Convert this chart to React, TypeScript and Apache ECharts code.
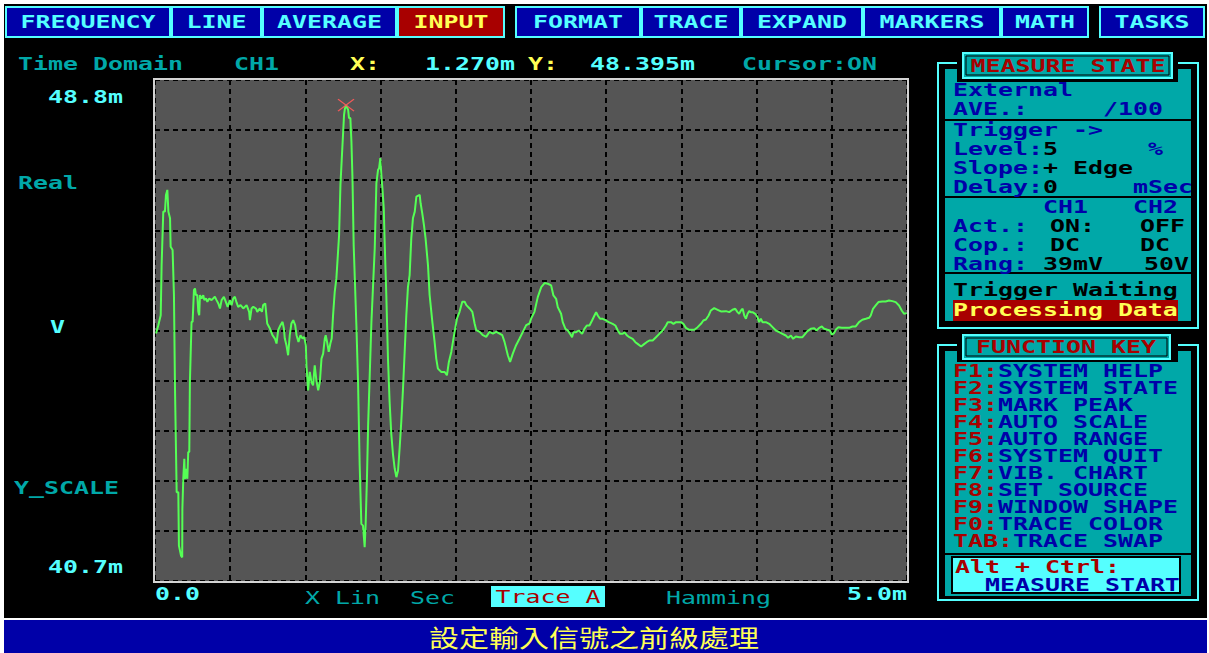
import React, { useEffect, useRef } from "react";
import * as echarts from "echarts";

// ---------------- DATA ----------------
const timeMs = [
  0.007, 0.022, 0.038, 0.044, 0.055, 0.066, 0.073, 0.082, 0.089, 0.1, 0.104, 0.117, 0.126, 0.133, 0.144, 0.155,
  0.159, 0.173, 0.181, 0.182, 0.188, 0.195, 0.199, 0.206, 0.215, 0.221, 0.228, 0.232, 0.243, 0.25, 0.259, 0.266,
  0.272, 0.281, 0.288, 0.294, 0.299, 0.31, 0.321, 0.328, 0.339, 0.348, 0.361, 0.376, 0.398, 0.409, 0.421, 0.432,
  0.443, 0.458, 0.471, 0.483, 0.498, 0.509, 0.52, 0.531, 0.542, 0.553, 0.569, 0.587, 0.609, 0.626, 0.631, 0.642,
  0.653, 0.671, 0.68, 0.697, 0.711, 0.719, 0.733, 0.746, 0.764, 0.781, 0.797, 0.808, 0.819, 0.834, 0.848, 0.857,
  0.863, 0.874, 0.885, 0.896, 0.907, 0.919, 0.932, 0.941, 0.954, 0.967, 0.981, 0.992, 1.003, 1.007, 1.018, 1.029,
  1.04, 1.051, 1.062, 1.073, 1.085, 1.096, 1.107, 1.118, 1.129, 1.135, 1.144, 1.155, 1.166, 1.175, 1.184, 1.195,
  1.206, 1.224, 1.233, 1.246, 1.257, 1.263, 1.27, 1.276, 1.284, 1.29, 1.299, 1.306, 1.313, 1.321, 1.339, 1.35,
  1.361, 1.372, 1.383, 1.394, 1.401, 1.41, 1.417, 1.428, 1.439, 1.45, 1.461, 1.472, 1.483, 1.49, 1.498, 1.505,
  1.512, 1.521, 1.527, 1.538, 1.549, 1.56, 1.571, 1.582, 1.594, 1.605, 1.616, 1.627, 1.638, 1.649, 1.66, 1.671,
  1.682, 1.693, 1.704, 1.715, 1.727, 1.738, 1.76, 1.766, 1.777, 1.788, 1.799, 1.815, 1.826, 1.844, 1.859, 1.87,
  1.881, 1.904, 1.926, 1.941, 1.954, 1.97, 1.992, 2.008, 2.025, 2.043, 2.059, 2.07, 2.092, 2.11, 2.125, 2.136,
  2.159, 2.18, 2.202, 2.224, 2.247, 2.269, 2.291, 2.309, 2.324, 2.346, 2.361, 2.379, 2.401, 2.424, 2.446, 2.468,
  2.49, 2.501, 2.523, 2.545, 2.568, 2.59, 2.612, 2.634, 2.649, 2.667, 2.678, 2.7, 2.711, 2.729, 2.745, 2.76,
  2.773, 2.782, 2.8, 2.818, 2.84, 2.855, 2.871, 2.889, 2.906, 2.922, 2.933, 2.944, 2.959, 2.977, 2.999, 3.017,
  3.043, 3.061, 3.077, 3.092, 3.11, 3.121, 3.139, 3.154, 3.176, 3.194, 3.209, 3.232, 3.254, 3.269, 3.287, 3.309,
  3.331, 3.353, 3.376, 3.398, 3.409, 3.431, 3.447, 3.464, 3.497, 3.513, 3.53, 3.552, 3.586, 3.608, 3.63, 3.646,
  3.663, 3.681, 3.696, 3.718, 3.741, 3.763, 3.796, 3.818, 3.84, 3.858, 3.873, 3.884, 3.896, 3.907, 3.918, 3.929,
  3.94, 3.951, 3.962, 3.973, 3.991, 4.006, 4.017, 4.028, 4.04, 4.062, 4.084, 4.106, 4.128, 4.15, 4.172, 4.194,
  4.21, 4.228, 4.243, 4.261, 4.283, 4.305, 4.323, 4.338, 4.36, 4.383, 4.398, 4.416, 4.434, 4.449, 4.471, 4.487,
  4.5, 4.515, 4.526, 4.544, 4.566, 4.588, 4.615, 4.637, 4.659, 4.681, 4.703, 4.726, 4.748, 4.759, 4.774, 4.792,
  4.81, 4.836, 4.858, 4.88, 4.903, 4.925, 4.947, 4.965, 4.98, 4.998,
];

const traceMv = [
  44.701, 44.836, 44.998, 45.808, 46.672, 46.672, 46.942, 47.023, 46.672, 46.564, 46.105, 46.051, 45.322, 43.81, 42.136, 42.136,
  41.272, 41.11, 41.083, 41.866, 42.352, 42.676, 42.352, 42.514, 42.352, 42.784, 42.784, 43.918, 44.89, 44.89, 45.403, 45.43,
  45.322, 45.322, 45.052, 44.998, 45.322, 45.268, 45.322, 45.241, 45.268, 45.214, 45.268, 45.241, 45.295, 45.241, 45.187, 45.106,
  45.241, 45.295, 45.214, 45.133, 45.241, 45.16, 45.268, 45.295, 45.204, 45.133, 45.16, 45.106, 45.16, 45.052, 44.917, 45.106,
  45.133, 45.106, 45.052, 45.106, 45.052, 45.16, 45.187, 44.863, 44.782, 44.674, 44.62, 44.539, 44.755, 44.836, 44.89, 44.782,
  44.62, 44.512, 44.35, 44.674, 44.863, 44.917, 44.836, 44.674, 44.566, 44.674, 44.62, 44.647, 44.512, 44.188, 43.783, 44.08,
  43.918, 43.864, 44.188, 43.945, 43.783, 43.918, 44.296, 44.377, 44.62, 44.674, 44.566, 44.404, 44.539, 44.62, 44.998, 45.376,
  45.592, 46.294, 47.104, 47.725, 48.238, 48.34, 48.395, 48.36, 48.319, 48.184, 48.184, 47.806, 47.212, 46.132, 44.836, 43.918,
  42.568, 41.623, 41.596, 41.245, 41.65, 42.433, 43.216, 44.053, 44.89, 45.484, 46.078, 47.131, 47.347, 47.374, 47.536, 47.266,
  47.05, 46.726, 46.186, 45.322, 44.296, 43.594, 43.081, 42.757, 42.514, 42.379, 42.487, 42.865, 43.297, 43.81, 44.404, 44.998,
  45.457, 45.646, 46.24, 46.564, 46.672, 46.915, 46.942, 46.807, 46.645, 46.456, 46.24, 45.808, 45.322, 44.89, 44.566, 44.296,
  44.134, 44.08, 44.08, 44.026, 44.242, 44.404, 44.728, 44.944, 45.052, 45.214, 45.214, 45.16, 45.106, 45.052, 44.863, 44.755,
  44.728, 44.674, 44.647, 44.728, 44.701, 44.728, 44.701, 44.674, 44.566, 44.35, 44.242, 44.377, 44.512, 44.62, 44.728, 44.836,
  44.863, 44.944, 45.052, 45.29, 45.452, 45.517, 45.506, 45.479, 45.317, 45.263, 45.128, 45.02, 44.885, 44.777, 44.75, 44.696,
  44.642, 44.723, 44.723, 44.75, 44.696, 44.777, 44.831, 44.831, 44.912, 44.993, 45.047, 44.993, 44.939, 44.939, 44.912, 44.885,
  44.858, 44.831, 44.75, 44.696, 44.696, 44.723, 44.669, 44.642, 44.615, 44.561, 44.534, 44.491, 44.534, 44.561, 44.588, 44.588,
  44.642, 44.696, 44.75, 44.831, 44.885, 44.885, 44.858, 44.885, 44.885, 44.858, 44.793, 44.761, 44.761, 44.804, 44.858, 44.912,
  44.928, 44.993, 45.074, 45.112, 45.085, 45.058, 45.063, 45.047, 45.085, 45.101, 45.047, 45.02, 45.074, 45.101, 44.993, 44.939,
  45.02, 45.063, 45.047, 45.047, 45.02, 44.966, 44.885, 44.939, 44.885, 44.885, 44.858, 44.804, 44.75, 44.723, 44.696, 44.669,
  44.631, 44.669, 44.615, 44.653, 44.642, 44.642, 44.696, 44.739, 44.777, 44.788, 44.75, 44.793, 44.815, 44.777, 44.761, 44.75,
  44.685, 44.707, 44.761, 44.804, 44.793, 44.793, 44.793, 44.815, 44.815, 44.885, 44.923, 44.939, 44.955, 44.993, 45.101, 45.155,
  45.209, 45.22, 45.22, 45.236, 45.225, 45.209, 45.155, 45.074, 45.02, 45.031,
];

const peakMarker = [1.27, 48.395];
const xRange = [0, 5];
const yRange = [40.7, 48.8];
const xTickLabels = ["0.0", "5.0m"];
const yTickLabels = ["48.8m", "40.7m"];
const yAxisNames = ["Real", "V", "Y_SCALE"];
const bottomInfo = ["X Lin", "Sec", "Trace A", "Hamming"];
const cursorInfo = ["Time Domain", "CH1", "X:", "1.270m", "Y:", "48.395m", "Cursor:ON"];

const menuItems = ["FREQUENCY", "LINE", "AVERAGE", "INPUT", "FORMAT", "TRACE", "EXPAND", "MARKERS", "MATH", "TASKS"];
const activeMenu = "INPUT";

const functionKeys = [
  ["F1:", "SYSTEM HELP"],
  ["F2:", "SYSTEM STATE"],
  ["F3:", "MARK PEAK"],
  ["F4:", "AUTO SCALE"],
  ["F5:", "AUTO RANGE"],
  ["F6:", "SYSTEM QUIT"],
  ["F7:", "VIB. CHART"],
  ["F8:", "SET SOURCE"],
  ["F9:", "WINDOW SHAPE"],
  ["F0:", "TRACE COLOR"],
  ["TAB:", "TRACE SWAP"],
];

const statusMessage = "設定輸入信號之前級處理";

// ---------------- LAYOUT / STYLE ----------------
const W = 1209;
const H = 653;
const CYAN = "#55ffff";
const TEAL = "#00a8a8";
const YELLOW = "#ffff55";
const BLUE = "#0000a8";
const RED = "#a80000";
const BLACK = "#000000";
const FONT = '"DejaVu Sans Mono", monospace';
const FS = 18;
const SX = 15 / (FS * 0.602);

const MENU_X = [
  [5, 171], [171, 262], [262, 397], [397, 505],
  [515, 641], [641, 741], [741, 863], [863, 1001], [1001, 1089],
  [1099, 1205],
];

type TOpts = { align?: string; weight?: string; size?: number; sx?: number; z?: number; font?: string };
function txt(x: number, y: number, text: string, fill: string, o: TOpts = {}) {
  const align = o.align || "left";
  const weight = o.weight || "bold";
  const size = o.size || FS;
  return {
    type: "text",
    x,
    y,
    scaleX: o.sx ?? SX,
    z: o.z ?? 20,
    style: {
      text,
      fill,
      font: `${weight} ${size}px ${o.font || FONT}`,
      textAlign: align,
      align,
      textVerticalAlign: "middle",
      verticalAlign: "middle",
    },
  };
}
function rect(x: number, y: number, w: number, h: number, style: any, z = 1) {
  return { type: "rect", z, shape: { x, y, width: w, height: h }, style };
}
function hline(x1: number, x2: number, y: number, stroke: string, lw: number, z = 3) {
  return { type: "line", z, shape: { x1, y1: y, x2, y2: y }, style: { stroke, lineWidth: lw } };
}

function buildGraphics() {
  const g: any[] = [];
  // white screenshot margins and bottom bar
  g.push(rect(0, 0, W, 4, { fill: "#ffffff" }, 0));
  g.push(rect(0, 0, 4, H, { fill: "#ffffff" }, 0));
  g.push(rect(1207, 0, 2, H, { fill: "#ffffff" }, 0));
  g.push(rect(0, 618, W, 2, { fill: "#ffffff" }, 0));
  g.push(rect(4, 620, 1203, 33, { fill: BLUE }, 0));
  g.push(txt(594, 636, statusMessage, YELLOW, { align: "center", weight: "normal", size: 24, sx: 1.25, font: '"Noto Sans CJK TC", sans-serif' }));

  // menu bar
  menuItems.forEach((m, i) => {
    const [a, b] = MENU_X[i];
    const active = m === activeMenu;
    g.push(rect(a + 1, 7, b - a - 2, 30, { fill: active ? RED : BLUE, stroke: CYAN, lineWidth: 2 }, 2));
    g.push(txt((a + b) / 2, 22, m, active ? YELLOW : CYAN, { align: "center" }));
  });

  // status/cursor line
  const cx = [18, 234, 350, 425, 528, 590, 742];
  const cc = [TEAL, TEAL, YELLOW, CYAN, YELLOW, CYAN, TEAL];
  cursorInfo.forEach((t, i) => g.push(txt(cx[i], 64, t, cc[i])));

  // y labels
  g.push(txt(123, 97, yTickLabels[0], CYAN, { align: "right" }));
  g.push(txt(123, 567, yTickLabels[1], CYAN, { align: "right" }));
  g.push(txt(18, 183, yAxisNames[0], TEAL));
  g.push(txt(50, 327, yAxisNames[1], CYAN));
  g.push(txt(14, 488, yAxisNames[2], TEAL));

  // x labels / bottom info
  g.push(txt(155, 594, xTickLabels[0], CYAN));
  g.push(txt(907, 594, xTickLabels[1], CYAN, { align: "right" }));
  g.push(txt(305, 598, bottomInfo[0], TEAL, { weight: "normal" }));
  g.push(txt(410, 598, bottomInfo[1], TEAL, { weight: "normal" }));
  g.push(rect(491, 586, 114, 21, { fill: CYAN }, 2));
  g.push(txt(548, 597, bottomInfo[2], RED, { align: "center", weight: "normal" }));
  g.push(txt(666, 598, bottomInfo[3], TEAL, { weight: "normal" }));

  // plot frame
  g.push(rect(154, 79, 754, 503, { fill: "none", stroke: "#d4d4d4", lineWidth: 2 }, 100));

  // ---- MEASURE STATE panel ----
  g.push(rect(938, 63, 260, 265, { fill: "none", stroke: CYAN, lineWidth: 2 }, 1));
  g.push(rect(944, 68, 248, 254, { fill: TEAL, stroke: BLACK, lineWidth: 2 }, 2));
  [120, 197, 273].forEach((y) => g.push(hline(944, 1192, y, BLACK, 2)));
  g.push(rect(957, 50, 221, 32, { fill: BLACK }, 4));
  g.push(rect(963, 53, 209, 25, { fill: TEAL, stroke: CYAN, lineWidth: 2 }, 5));
  g.push(rect(966, 56, 203, 19, { fill: "none", stroke: BLACK, lineWidth: 1 }, 6));
  g.push(txt(1068, 66, "MEASURE STATE", RED, { align: "center" }));

  const L = 953;
  g.push(txt(L, 90, "External", BLUE));
  g.push(txt(L, 109, "AVE.:", BLUE));
  g.push(txt(1103, 109, "/100", BLUE));
  g.push(txt(L, 130, "Trigger ->", BLUE));
  g.push(txt(L, 149, "Level:", BLUE));
  g.push(txt(1043, 149, "5", BLACK));
  g.push(txt(1148, 149, "%", BLUE));
  g.push(txt(L, 168, "Slope:", BLUE));
  g.push(txt(1043, 168, "+ Edge", BLACK));
  g.push(txt(L, 187, "Delay:", BLUE));
  g.push(txt(1043, 187, "0", BLACK));
  g.push(txt(1133, 187, "mSec", BLUE));
  g.push(txt(1043, 207, "CH1", BLUE));
  g.push(txt(1133, 207, "CH2", BLUE));
  g.push(txt(L, 226, "Act.:", BLUE));
  g.push(txt(1050, 226, "ON:", BLACK));
  g.push(txt(1140, 226, "OFF", BLACK));
  g.push(txt(L, 245, "Cop.:", BLUE));
  g.push(txt(1050, 245, "DC", BLACK));
  g.push(txt(1140, 245, "DC", BLACK));
  g.push(txt(L, 264, "Rang:", BLUE));
  g.push(txt(1043, 264, "39mV", BLACK));
  g.push(txt(1144, 264, "50V", BLACK));
  g.push(txt(L, 290, "Trigger Waiting", BLACK));
  g.push(rect(953, 300, 225, 21, { fill: RED }, 4));
  g.push(txt(L, 310, "Processing Data", YELLOW));

  // ---- FUNCTION KEY panel ----
  g.push(rect(938, 345, 260, 255, { fill: "none", stroke: CYAN, lineWidth: 2 }, 1));
  g.push(rect(944, 350, 248, 247, { fill: TEAL, stroke: BLACK, lineWidth: 2 }, 2));
  g.push(rect(957, 332, 221, 30, { fill: BLACK }, 4));
  g.push(rect(963, 335, 207, 24, { fill: TEAL, stroke: CYAN, lineWidth: 2 }, 5));
  g.push(rect(966, 338, 201, 18, { fill: "none", stroke: BLACK, lineWidth: 1 }, 6));
  g.push(txt(1066, 347, "FUNCTION KEY", RED, { align: "center" }));
  functionKeys.forEach(([k, v], i) => {
    const y = 371 + 17 * i;
    g.push(txt(L, y, k, RED));
    g.push(txt(L + 15 * k.length, y, v, BLUE));
  });
  g.push(hline(944, 1192, 554, BLACK, 2));
  g.push(rect(952, 557, 228, 36, { fill: CYAN, stroke: BLACK, lineWidth: 2 }, 4));
  g.push(txt(955, 567, "Alt + Ctrl:", RED));
  g.push(txt(985, 585, "MEASURE START", BLUE));
  return g;
}

export default function App() {
  const ref = useRef<HTMLDivElement>(null);
  useEffect(() => {
    if (!ref.current) return;
    const chart = echarts.init(ref.current, null, { renderer: "svg" });
    const lineData = timeMs.map((t, i) => [t, traceMv[i]]);
    const dash = { color: "#000000", width: 2, type: [5, 4] as any };
    chart.setOption({
      animation: false,
      backgroundColor: "#000000",
      grid: {
        left: 155,
        top: 80,
        width: 752,
        height: 501,
        show: true,
        backgroundColor: "#555555",
        borderWidth: 0,
      },
      xAxis: [
        {
          type: "value",
          min: xRange[0],
          max: xRange[1],
          interval: 0.5,
          axisLine: { show: false },
          axisTick: { show: false },
          axisLabel: { show: false },
          splitLine: { show: true, lineStyle: dash },
        },
      ],
      yAxis: [
        {
          type: "value",
          min: yRange[0],
          max: yRange[1],
          axisLine: { show: false },
          axisTick: { show: false },
          axisLabel: { show: false },
          splitLine: { show: false },
        },
        {
          type: "value",
          min: 0,
          max: 10,
          interval: 1,
          position: "left",
          axisLine: { show: false },
          axisTick: { show: false },
          axisLabel: { show: false },
          splitLine: { show: true, lineStyle: dash },
        },
      ],
      series: [
        {
          type: "line",
          yAxisIndex: 0,
          data: lineData,
          symbol: "none",
          z: 5,
          lineStyle: { color: "#55ff55", width: 2 },
        },
        {
          type: "scatter",
          yAxisIndex: 0,
          data: [peakMarker],
          symbol: "path://M0 0L10 8M10 0L0 8",
          symbolSize: [16, 12],
          z: 6,
          itemStyle: { color: "transparent", borderColor: "#ff5a5a", borderWidth: 1.3, opacity: 0.9 },
        },
      ],
      graphic: buildGraphics(),
    });
    return () => chart.dispose();
  }, []);
  return <div ref={ref} style={{ position: "fixed", left: 0, top: 0, width: W, height: H }} />;
}
